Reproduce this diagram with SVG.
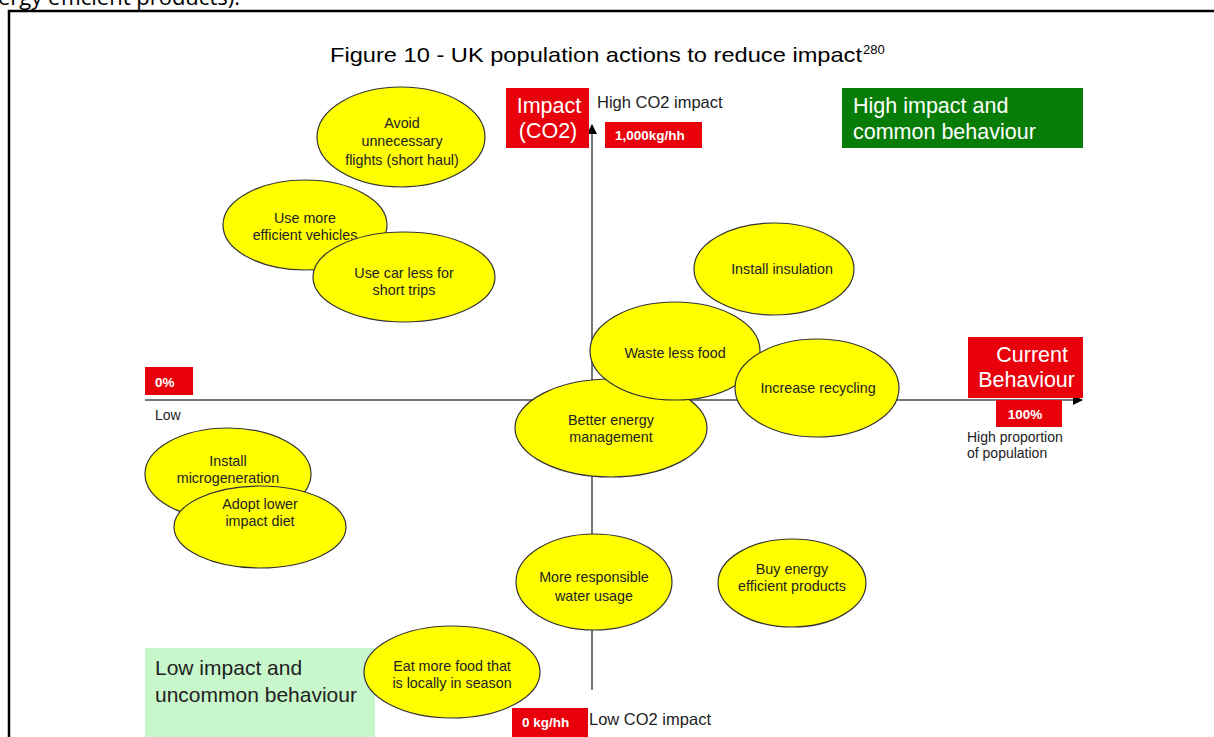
<svg xmlns="http://www.w3.org/2000/svg" width="1214" height="737" viewBox="0 0 1214 737">
  <defs>
    <marker id="arrow" viewBox="0 0 10 10" refX="9" refY="5" markerWidth="10" markerHeight="10" markerUnits="userSpaceOnUse" orient="auto">
      <path d="M0,0 L10,5 L0,10 z" fill="#000"/>
    </marker>
    <style>
      .page { font-family: "Open Sans", "Noto Sans", sans-serif; fill: #000; }
      .ui { font-family: "Liberation Sans", Arial, sans-serif; }
      .bubble ellipse { fill: #ffff00; stroke: #333; stroke-width: 1.2; }
      .bubble text { font-family: "Liberation Sans", Arial, sans-serif; font-size: 14.3px; fill: #222; text-anchor: middle; }
      .red { fill: #e8000b; }
      .lbl-big { font-family: "Liberation Sans", Arial, sans-serif; font-size: 21.5px; fill: #fff; }
      .lbl-tag { font-family: "Liberation Sans", Arial, sans-serif; font-size: 13.5px; font-weight: bold; fill: #fff; }
      .note { font-family: "Liberation Sans", Arial, sans-serif; font-size: 14px; fill: #222; }
      .axis { stroke: #777; stroke-width: 2; fill: none; }
    </style>
  </defs>

  <rect width="1214" height="737" fill="#fff"/>

  <!-- running text above the figure frame -->
  <text class="page" x="-2" y="5" font-size="22">ergy efficient products).</text>

  <!-- figure frame -->
  <path d="M9,737 V11 H1214" fill="none" stroke="#000" stroke-width="2.5"/>

  <!-- caption -->
  <text class="ui" x="330" y="62" font-size="21" textLength="532" lengthAdjust="spacingAndGlyphs">Figure 10 - UK population actions to reduce impact</text>
  <text class="ui" x="863" y="54" font-size="13">280</text>

  <!-- axes -->
  <g id="connectors">
    <line class="axis" x1="592" y1="690" x2="592" y2="125" marker-end="url(#arrow)"/>
    <line class="axis" x1="145" y1="400" x2="1082" y2="400" marker-end="url(#arrow)"/>
  </g>

  <!-- quadrant labels -->
  <g id="quad-high">
    <rect x="842" y="88" width="241" height="60" fill="#077d07"/>
    <text class="lbl-big" x="853" y="113">High impact and</text>
    <text class="lbl-big" x="853" y="139">common behaviour</text>
  </g>
  <g id="quad-low">
    <rect x="145" y="648" width="230" height="89" fill="#c8f7cb"/>
    <text class="ui" x="155" y="675" font-size="21" fill="#222">Low impact and</text>
    <text class="ui" x="155" y="702" font-size="21" fill="#222">uncommon behaviour</text>
  </g>

  <!-- axis labels -->
  <g id="axis-impact">
    <rect class="red" x="506" y="88" width="83" height="60"/>
    <text class="lbl-big" x="549" y="113" text-anchor="middle">Impact</text>
    <text class="lbl-big" x="548" y="138" text-anchor="middle">(CO2)</text>
    <text class="ui" x="597" y="108" font-size="16.5" fill="#222">High CO2 impact</text>
    <rect class="red" x="605" y="122" width="97" height="26"/>
    <text class="lbl-tag" x="615" y="140">1,000kg/hh</text>
  </g>
  <g id="axis-low-impact">
    <rect class="red" x="512" y="708" width="76" height="29"/>
    <text class="lbl-tag" x="522" y="727">0 kg/hh</text>
    <text class="ui" x="589" y="725" font-size="16.5" fill="#222">Low CO2 impact</text>
  </g>
  <g id="axis-zero">
    <rect class="red" x="145" y="367" width="48" height="28"/>
    <text class="lbl-tag" x="155" y="387">0%</text>
    <text class="note" x="155" y="420">Low</text>
  </g>
  <g id="axis-behaviour">
    <rect class="red" x="968" y="337" width="115" height="61"/>
    <text class="lbl-big" x="1068" y="362" text-anchor="end">Current</text>
    <text class="lbl-big" x="1075" y="387" text-anchor="end">Behaviour</text>
    <rect class="red" x="996" y="400" width="66" height="27"/>
    <text class="lbl-tag" x="1025" y="419" text-anchor="middle">100%</text>
    <text class="note" x="967" y="442">High proportion</text>
    <text class="note" x="967" y="458">of population</text>
  </g>

  <!-- actions -->
  <g id="n-flights" class="bubble">
    <ellipse cx="401" cy="137" rx="84" ry="50"/>
    <text x="402" y="128">Avoid</text>
    <text x="402" y="146">unnecessary</text>
    <text x="402" y="165">flights (short haul)</text>
  </g>
  <g id="n-vehicles" class="bubble">
    <ellipse cx="305" cy="225" rx="82" ry="45"/>
    <text x="305" y="223">Use more</text>
    <text x="305" y="240">efficient vehicles</text>
  </g>
  <g id="n-car" class="bubble">
    <ellipse cx="404" cy="277" rx="91" ry="45"/>
    <text x="404" y="278">Use car less for</text>
    <text x="404" y="295">short trips</text>
  </g>
  <g id="n-energy" class="bubble">
    <ellipse cx="611" cy="428" rx="96" ry="49"/>
    <text x="611" y="425">Better energy</text>
    <text x="611" y="442">management</text>
  </g>
  <g id="n-food" class="bubble">
    <ellipse cx="675" cy="351" rx="85" ry="49"/>
    <text x="675" y="358">Waste less food</text>
  </g>
  <g id="n-insulation" class="bubble">
    <ellipse cx="774" cy="269" rx="80" ry="46"/>
    <text x="782" y="274">Install insulation</text>
  </g>
  <g id="n-recycling" class="bubble">
    <ellipse cx="817" cy="388" rx="82" ry="49"/>
    <text x="818" y="393">Increase recycling</text>
  </g>
  <g id="n-microgen" class="bubble">
    <ellipse cx="228" cy="474" rx="83" ry="46"/>
    <text x="228" y="466">Install</text>
    <text x="228" y="483">microgeneration</text>
  </g>
  <g id="n-diet" class="bubble">
    <ellipse cx="260" cy="527" rx="86" ry="41"/>
    <text x="260" y="509">Adopt lower</text>
    <text x="260" y="526">impact diet</text>
  </g>
  <g id="n-water" class="bubble">
    <ellipse cx="594" cy="582" rx="78" ry="48"/>
    <text x="594" y="582">More responsible</text>
    <text x="594" y="601">water usage</text>
  </g>
  <g id="n-products" class="bubble">
    <ellipse cx="792" cy="583" rx="74" ry="44"/>
    <text x="792" y="574">Buy energy</text>
    <text x="792" y="591">efficient products</text>
  </g>
  <g id="n-seasonal" class="bubble">
    <ellipse cx="452" cy="672" rx="88" ry="46"/>
    <text x="452" y="671">Eat more food that</text>
    <text x="452" y="688">is locally in season</text>
  </g>
</svg>
